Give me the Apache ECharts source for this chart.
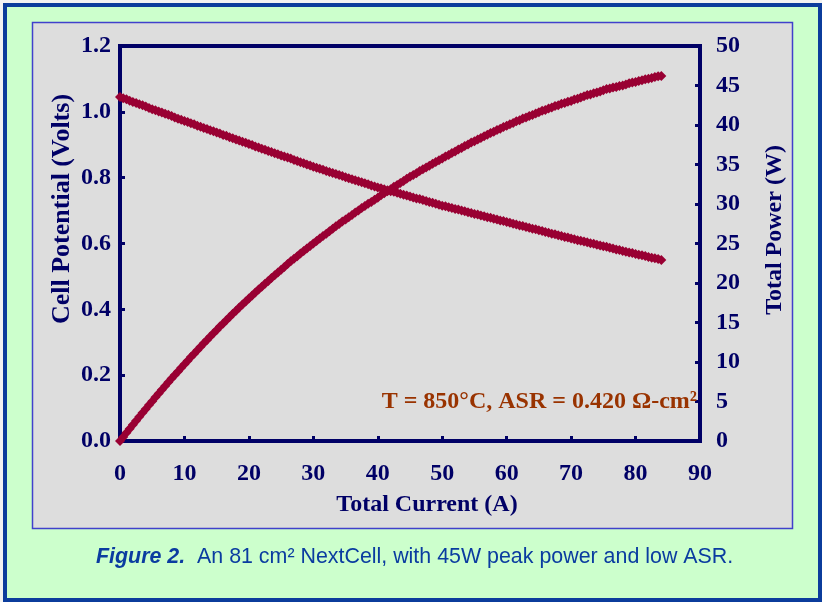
<!DOCTYPE html>
<html><head><meta charset="utf-8">
<script src="https://cdn.jsdelivr.net/npm/echarts@6/dist/echarts.min.js"></script>
<style>html,body{margin:0;padding:0;background:#f2f2f2;}#c{width:822px;height:602px;}</style>
</head><body><div id="c"></div>
<script>
// Measured total current (A)
const currentA = [0,0.5,1,1.5,2,2.5,3,3.5,4,4.5,5,5.5,6,6.5,7,7.5,8,8.5,9,9.5,
  10,10.5,11,11.5,12,12.5,13,13.5,14,14.5,15,15.5,16,16.5,17,17.5,18,18.5,19,19.5,
  20,20.5,21,21.5,22,22.5,23,23.5,24,24.5,25,25.5,26,26.5,27,27.5,28,28.5,29,29.5,
  30,30.5,31,31.5,32,32.5,33,33.5,34,34.5,35,35.5,36,36.5,37,37.5,38,38.5,39,39.5,
  40,40.5,41,41.5,42,42.5,43,43.5,44,44.5,45,45.5,46,46.5,47,47.5,48,48.5,49,49.5,
  50,50.5,51,51.5,52,52.5,53,53.5,54,54.5,55,55.5,56,56.5,57,57.5,58,58.5,59,59.5,
  60,60.5,61,61.5,62,62.5,63,63.5,64,64.5,65,65.5,66,66.5,67,67.5,68,68.5,69,69.5,
  70,70.5,71,71.5,72,72.5,73,73.5,74,74.5,75,75.5,76,76.5,77,77.5,78,78.5,79,79.5,
  80,80.5,81,81.5,82,82.5,83,83.5,84];
// Cell potential (V)
const cellPotentialV = [1.045,1.041,1.038,1.034,1.030,1.027,1.023,1.020,1.016,1.012,1.008,1.005,1.001,0.998,0.994,0.991,0.987,0.983,0.979,0.976,
  0.972,0.969,0.965,0.962,0.958,0.955,0.951,0.948,0.944,0.941,0.937,0.934,0.930,0.927,0.923,0.920,0.916,0.913,0.909,0.906,
  0.902,0.899,0.895,0.892,0.888,0.885,0.881,0.878,0.874,0.871,0.867,0.864,0.861,0.858,0.854,0.851,0.847,0.844,0.840,0.837,
  0.833,0.830,0.827,0.824,0.820,0.817,0.814,0.811,0.808,0.805,0.801,0.798,0.795,0.792,0.789,0.786,0.783,0.780,0.776,0.773,
  0.770,0.768,0.765,0.762,0.759,0.757,0.754,0.751,0.748,0.746,0.743,0.740,0.737,0.735,0.732,0.729,0.726,0.724,0.721,0.718,
  0.715,0.713,0.710,0.708,0.705,0.703,0.700,0.698,0.695,0.693,0.690,0.688,0.685,0.683,0.680,0.678,0.675,0.673,0.670,0.668,
  0.665,0.663,0.660,0.658,0.655,0.653,0.650,0.648,0.645,0.643,0.640,0.638,0.635,0.633,0.630,0.628,0.625,0.623,0.620,0.618,
  0.615,0.613,0.610,0.608,0.606,0.604,0.601,0.599,0.596,0.594,0.592,0.590,0.587,0.585,0.582,0.580,0.577,0.575,0.573,0.571,
  0.568,0.566,0.564,0.562,0.559,0.557,0.555,0.553,0.550];
// Total power (W)
const totalPowerW = [0,0.52,1.04,1.55,2.06,2.57,3.07,3.57,4.06,4.55,5.04,5.53,6.01,6.49,6.96,7.43,7.90,8.36,8.81,9.27,
  9.72,10.17,10.62,11.06,11.50,11.94,12.36,12.80,13.22,13.64,14.06,14.48,14.88,15.30,15.69,16.10,16.49,16.89,17.27,17.67,
  18.04,18.43,18.80,19.18,19.54,19.91,20.26,20.63,20.98,21.34,21.68,22.03,22.39,22.74,23.06,23.40,23.72,24.05,24.36,24.69,
  24.99,25.32,25.64,25.96,26.24,26.55,26.86,27.17,27.47,27.77,28.04,28.33,28.62,28.91,29.19,29.48,29.75,30.03,30.26,30.53,
  30.80,31.10,31.37,31.62,31.88,32.17,32.42,32.67,32.91,33.20,33.44,33.67,33.90,34.18,34.40,34.63,34.85,35.11,35.33,35.54,
  35.75,36.01,36.21,36.46,36.66,36.91,37.10,37.34,37.53,37.77,37.95,38.18,38.36,38.59,38.76,38.99,39.15,39.37,39.53,39.75,
  39.90,40.11,40.26,40.47,40.61,40.81,40.95,41.15,41.28,41.47,41.60,41.79,41.91,42.09,42.21,42.39,42.50,42.68,42.78,42.95,
  43.05,43.22,43.31,43.47,43.63,43.79,43.87,44.03,44.10,44.25,44.40,44.55,44.61,44.75,44.81,44.95,45.01,45.14,45.27,45.39,
  45.44,45.56,45.68,45.80,45.84,45.95,46.07,46.18,46.20];
const leftTickLabels = ['0.0','0.2','0.4','0.6','0.8','1.0','1.2'];
const rightTickLabels = ['0','5','10','15','20','25','30','35','40','45','50'];
const xTickLabels = ['0','10','20','30','40','50','60','70','80','90'];

const navy = '#000066';
const serif = 'Liberation Serif, Times New Roman, serif';
const sans = 'Liberation Sans, Arial, sans-serif';
const chart = echarts.init(document.getElementById('c'));
const vData = currentA.map((x, i) => [x, cellPotentialV[i]]);
const pData = currentA.map((x, i) => [x, totalPowerW[i]]);
const labelStyle = {color: navy, fontSize: 24, fontWeight: 'bold', fontFamily: serif};

chart.setOption({
  animation: false,
  backgroundColor: '#f2f2f2',
  graphic: [
    {type: 'rect', z: -10, shape: {x: 5, y: 5, width: 815, height: 595},
     style: {fill: '#ccffcc', stroke: '#0b3c9c', lineWidth: 4}},
    {type: 'rect', z: -9, shape: {x: 32.5, y: 22.5, width: 760, height: 506},
     style: {fill: '#dddddd', stroke: '#4040cc', lineWidth: 1.5}},
    {type: 'text', x: 62, y: 209, rotation: Math.PI / 2, z: 5,
     style: {text: 'Cell Potential (Volts)', align: 'center', verticalAlign: 'middle',
             fill: navy, font: 'bold 26px ' + serif}},
    {type: 'text', x: 775, y: 230, rotation: Math.PI / 2, z: 5,
     style: {text: 'Total Power (W)', align: 'center', verticalAlign: 'middle',
             fill: navy, font: 'bold 24px ' + serif}},
    {type: 'text', x: 427, y: 505, z: 5,
     style: {text: 'Total Current (A)', align: 'center', verticalAlign: 'middle',
             fill: navy, font: 'bold 24px ' + serif}},
    {type: 'text', x: 697, y: 402, z: 5,
     style: {text: 'T = 850°C, ASR = 0.420 Ω-cm²', align: 'right', verticalAlign: 'middle',
             fill: '#993300', font: 'bold 24px ' + serif}},
    {type: 'text', x: 96, y: 557, z: 5,
     style: {text: '{b|Figure 2.}{n|  An 81 cm² NextCell, with 45W peak power and low ASR.}',
             align: 'left', verticalAlign: 'middle',
             rich: {
               b: {fill: '#0a3ca0', fontSize: 21.4, fontWeight: 'bold', fontStyle: 'italic', fontFamily: sans},
               n: {fill: '#0a3ca0', fontSize: 21.4, fontFamily: sans}
             }}}
  ],
  grid: {left: 120, right: 122, top: 46, bottom: 161, show: true,
         borderColor: navy, borderWidth: 4, backgroundColor: 'transparent'},
  xAxis: {type: 'value', min: 0, max: 90, interval: 10,
          axisLine: {show: true, lineStyle: {color: navy, width: 4}},
          axisTick: {show: true, inside: true, length: 5, lineStyle: {color: navy, width: 3}},
          splitLine: {show: false},
          axisLabel: Object.assign({margin: 21, formatter: (v) => xTickLabels[Math.round(v / 10)]}, labelStyle)},
  yAxis: [
    {type: 'value', min: 0, max: 1.2, interval: 0.2, position: 'left',
     axisLine: {show: true, lineStyle: {color: navy, width: 4}},
     axisTick: {show: true, inside: true, length: 5, lineStyle: {color: navy, width: 3}},
     splitLine: {show: false},
     axisLabel: Object.assign({margin: 9, formatter: (v) => leftTickLabels[Math.round(v / 0.2)]}, labelStyle)},
    {type: 'value', min: 0, max: 50, interval: 5, position: 'right',
     axisLine: {show: true, lineStyle: {color: navy, width: 4}},
     axisTick: {show: true, inside: true, length: 5, lineStyle: {color: navy, width: 3}},
     splitLine: {show: false},
     axisLabel: Object.assign({margin: 16, formatter: (v) => rightTickLabels[Math.round(v / 5)]}, labelStyle)}
  ],
  series: [
    {name: 'Cell Potential', type: 'scatter', yAxisIndex: 0, data: vData, clip: false,
     symbol: 'diamond', symbolSize: 10, itemStyle: {color: '#990033', opacity: 1}, z: 3},
    {name: 'Total Power', type: 'scatter', yAxisIndex: 1, data: pData, clip: false,
     symbol: 'diamond', symbolSize: 10, itemStyle: {color: '#990033', opacity: 1}, z: 3}
  ]
});
</script></body></html>
